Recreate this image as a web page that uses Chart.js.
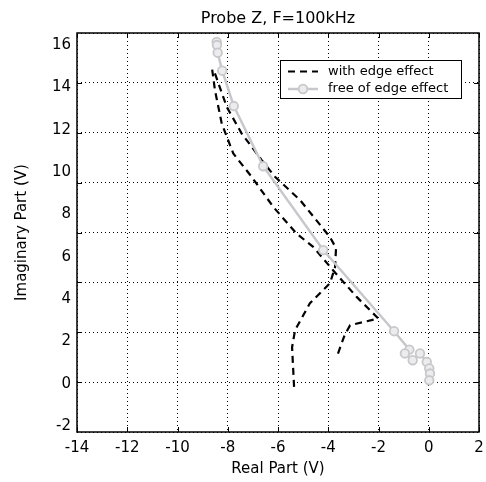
<!DOCTYPE html>
<html>
<head>
<meta charset="utf-8">
<script src="https://cdn.jsdelivr.net/npm/chart.js@4/dist/chart.umd.min.js"></script>
<style>
  html, body { margin: 0; padding: 0; background: #fff; }
  #wrap { width: 486px; height: 482px; }
</style>
</head>
<body>
<div id="wrap"><canvas id="probeChart" width="486" height="482"></canvas></div>
<script>
// with edge effect (dashed black), one polyline
const realEdge = [-5.36, -5.44, -5.32, -4.73, -3.93, -3.73, -3.69, -3.93, -5.12, -6.12, -6.65, -7.45, -8.04, -8.51, -8.62,
                  -8.51, -8.24, -7.78, -7.05, -6.19, -5.26, -4.60, -3.81, -2.87, -2.01, -3.13, -3.35, -3.66];
const imagEdge = [-0.14, 1.73, 2.54, 3.81, 4.76, 5.51, 6.41, 6.93, 8.68, 9.78, 10.57, 11.83, 13.08, 14.66, 14.85,
                  13.87, 12.30, 10.88, 9.78, 8.36, 7.10, 6.47, 5.37, 4.11, 3.09, 2.77, 2.30, 1.28];

// free of edge effect (grey, circles)
const realFree = [-8.44, -8.43, -8.40, -8.22, -7.76, -6.59, -4.20, -1.38, -0.77, -0.95, -0.64, -0.35, -0.08, 0.02, 0.05, 0.02];
const imagFree = [16.15, 16.00, 15.64, 14.79, 13.12, 10.28, 6.32, 2.49, 1.62, 1.44, 1.12, 1.44, 1.04, 0.73, 0.49, 0.17];

const seriesNames = ['with edge effect', 'free of edge effect'];
const chartTitle = 'Probe Z, F=100kHz';
const xTicks = [-14, -12, -10, -8, -6, -4, -2, 0, 2];
const yTicks = [-2, 0, 2, 4, 6, 8, 10, 12, 14, 16];

const FONT = "'DejaVu Sans', Arial, sans-serif";
const GREY = '#c8c8cc';

const toPoints = (xs, ys) => xs.map((x, i) => ({ x: x, y: ys[i] }));

// titre centre sur la zone du graphe, boite, graduations et legende encadree
const boxPlugin = {
  id: 'boxPlugin',
  afterDraw(chart) {
    const ctx = chart.ctx;
    const a = chart.chartArea;
    const xs = chart.scales.x;
    const gs = chart.scales.y2;
    ctx.save();

    ctx.fillStyle = '#000';
    ctx.font = '16px ' + FONT;
    ctx.textAlign = 'center';
    ctx.textBaseline = 'middle';
    ctx.fillText(chartTitle, (a.left + a.right) / 2, 19);

    ctx.strokeStyle = '#000';
    ctx.lineWidth = 1;
    ctx.setLineDash([]);
    ctx.beginPath();
    xTicks.forEach(v => {
      const px = Math.round(xs.getPixelForValue(v)) + 0.5;
      ctx.moveTo(px, a.bottom); ctx.lineTo(px, a.bottom - 5);
      ctx.moveTo(px, a.top); ctx.lineTo(px, a.top + 5);
    });
    for (let v = 1; v < 8; v++) {
      const py = Math.round(gs.getPixelForValue(v)) + 0.5;
      ctx.moveTo(a.left, py); ctx.lineTo(a.left + 5, py);
      ctx.moveTo(a.right, py); ctx.lineTo(a.right - 5, py);
    }
    ctx.stroke();
    ctx.lineWidth = 1.5;
    ctx.strokeRect(a.left, a.top, a.right - a.left, a.bottom - a.top);

    // legende
    const lx = 280.5, ly = 60.5, lw = 181, lh = 38;
    ctx.fillStyle = '#fff';
    ctx.fillRect(lx, ly, lw, lh);
    ctx.lineWidth = 1;
    ctx.strokeStyle = '#000';
    ctx.strokeRect(lx, ly, lw, lh);
    const rows = [71.5, 89];
    chart.data.datasets.forEach((ds, i) => {
      const y = rows[i];
      ctx.strokeStyle = ds.borderColor;
      ctx.lineWidth = ds.borderWidth;
      ctx.setLineDash(ds.borderDash || []);
      ctx.beginPath();
      ctx.moveTo(288, y); ctx.lineTo(318, y);
      ctx.stroke();
      ctx.setLineDash([]);
      if (ds.pointRadius > 0) {
        ctx.beginPath();
        ctx.arc(303, y, ds.pointRadius, 0, Math.PI * 2);
        ctx.fillStyle = ds.pointBackgroundColor;
        ctx.fill();
        ctx.lineWidth = ds.pointBorderWidth;
        ctx.strokeStyle = ds.pointBorderColor;
        ctx.stroke();
      }
      ctx.fillStyle = '#000';
      ctx.font = '13px ' + FONT;
      ctx.textBaseline = 'middle';
      ctx.textAlign = 'left';
      ctx.fillText(ds.label, 328, y);
    });
    ctx.restore();
  }
};

const ctx = document.getElementById('probeChart').getContext('2d');
new Chart(ctx, {
  type: 'scatter',
  data: {
    datasets: [{
      label: seriesNames[0],
      data: toPoints(realEdge, imagEdge),
      showLine: true,
      borderColor: '#000',
      borderWidth: 2.2,
      borderDash: [7, 5],
      pointRadius: 0,
      order: 1
    }, {
      label: seriesNames[1],
      data: toPoints(realFree, imagFree),
      showLine: true,
      borderColor: GREY,
      borderWidth: 2.5,
      pointRadius: 4.3,
      pointBorderWidth: 1.8,
      pointBorderColor: GREY,
      pointBackgroundColor: '#ececee',
      order: 0
    }]
  },
  options: {
    responsive: false,
    animation: false,
    layout: { padding: { left: 0, right: 7, top: 33, bottom: 0 } },
    plugins: {
      legend: { display: false },
      tooltip: { enabled: false },
      title: { display: false }
    },
    scales: {
      x: {
        type: 'linear',
        min: -14,
        max: 2,
        afterBuildTicks: s => { s.ticks = xTicks.map(v => ({ value: v })); },
        afterFit: s => { s.height = 50; s.paddingLeft = 0; s.paddingRight = 0; },
        ticks: { color: '#000', font: { family: FONT, size: 15 }, padding: 7 },
        grid: { color: '#000', lineWidth: 1, drawTicks: false },
        border: { display: false, dash: [1, 3] },
        title: {
          display: true,
          text: 'Real Part (V)',
          color: '#000',
          font: { family: FONT, size: 15 },
          padding: { top: 0, bottom: 4 }
        }
      },
      y: {
        type: 'linear',
        position: 'left',
        min: -2.27,
        max: 16.57,
        afterBuildTicks: s => { s.ticks = yTicks.map(v => ({ value: v })); },
        afterFit: s => { s.width = 77; s.paddingTop = 0; s.paddingBottom = 0; },
        ticks: { color: '#000', font: { family: FONT, size: 15 }, padding: 6 },
        grid: { display: false, drawTicks: false },
        border: { display: false },
        title: {
          display: true,
          text: 'Imaginary Part (V)',
          color: '#000',
          font: { family: FONT, size: 15 },
          padding: { top: 13, bottom: 0 }
        }
      },
      y2: {
        type: 'linear',
        position: 'left',
        min: 0,
        max: 8,
        afterFit: s => { s.width = 0; s.paddingTop = 0; s.paddingBottom = 0; },
        ticks: { display: false, stepSize: 1 },
        grid: { color: '#000', lineWidth: 1, drawTicks: false },
        border: { display: false, dash: [1, 3] }
      }
    }
  },
  plugins: [boxPlugin]
});
</script>
</body>
</html>
